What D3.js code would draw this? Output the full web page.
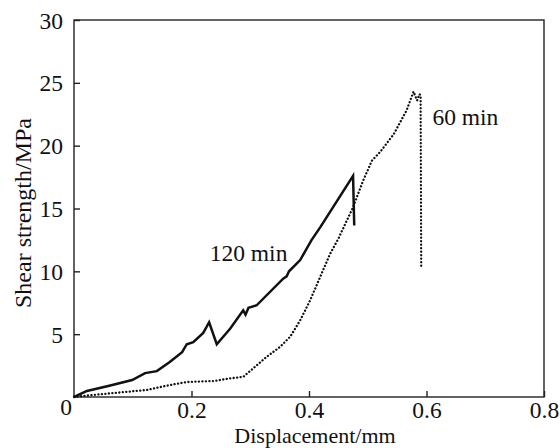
<!DOCTYPE html>
<html>
<head>
<meta charset="utf-8">
<script src="https://cdn.jsdelivr.net/npm/d3@7"></script>
</head>
<body style="margin:0; background:#fff">
<svg id="chart" width="560" height="448"></svg>
<script>
// data
// 120 min curve (solid)
const disp120 = [0, 0.022, 0.06, 0.099, 0.121, 0.141, 0.163, 0.184, 0.192, 0.203, 0.22, 0.23, 0.243, 0.266, 0.288, 0.292, 0.297, 0.311, 0.356, 0.362, 0.366, 0.385, 0.404, 0.419, 0.475, 0.477];
const stress120 = [0, 0.48, 0.9, 1.35, 1.9, 2.06, 2.78, 3.57, 4.2, 4.37, 5.1, 5.95, 4.2, 5.45, 6.9, 6.55, 7.1, 7.3, 9.42, 9.6, 10.0, 10.9, 12.46, 13.5, 17.6, 13.65];
// 60 min curve (dotted)
const disp60 = [0, 0.032, 0.124, 0.163, 0.192, 0.237, 0.266, 0.288, 0.305, 0.328, 0.351, 0.368, 0.385, 0.402, 0.419, 0.436, 0.45, 0.475, 0.492, 0.507, 0.521, 0.544, 0.566, 0.578, 0.584, 0.588, 0.590, 0.591];
const stress60 = [0, 0.16, 0.56, 0.95, 1.19, 1.27, 1.48, 1.6, 2.28, 3.2, 4.0, 4.8, 6.1, 7.7, 9.55, 11.4, 12.6, 15.1, 17.2, 18.8, 19.5, 20.9, 22.8, 24.3, 23.6, 24.1, 24.0, 10.3];
const xTicks = [0.2, 0.4, 0.6, 0.8];
const yTicks = [5, 10, 15, 20, 25, 30];
const labels = [
  {text: "120 min", x: 0.231, y: 10.82},
  {text: "60 min", x: 0.61, y: 21.64}
];

const FONT = "'Liberation Serif', 'Times New Roman', Times, serif";

const margin = {left: 74, right: 16, top: 20, bottom: 51};
const width = 560 - margin.left - margin.right;
const height = 448 - margin.top - margin.bottom;

const svg = d3.select("#chart");
const g = svg.append("g").attr("transform", "translate(" + margin.left + "," + margin.top + ")");

const x = d3.scaleLinear().domain([0, 0.8]).range([0, width]);
const y = d3.scaleLinear().domain([0, 30]).range([height, 0]);

// frame
g.append("rect")
  .attr("x", 0).attr("y", 0)
  .attr("width", width).attr("height", height)
  .attr("fill", "none")
  .attr("stroke", "#222")
  .attr("stroke-width", 1.4);

// bottom axis, ticks pointing inward
const xAxis = g.append("g")
  .attr("transform", "translate(0," + height + ")")
  .call(d3.axisBottom(x).tickValues(xTicks).tickSizeInner(-6).tickSizeOuter(0).tickFormat(d3.format(".1f")));
xAxis.select(".domain").remove();
xAxis.selectAll("line").attr("stroke", "#222").attr("stroke-width", 1.4);
xAxis.selectAll("text")
  .attr("y", 21).attr("dy", null)
  .attr("fill", "#111")
  .style("font-family", FONT).style("font-size", "23.5px");

// left axis, ticks pointing inward
const yAxis = g.append("g")
  .call(d3.axisLeft(y).tickValues(yTicks).tickSizeInner(-6).tickSizeOuter(0).tickPadding(11));
yAxis.select(".domain").remove();
yAxis.selectAll("line").attr("stroke", "#222").attr("stroke-width", 1.4);
yAxis.selectAll("text")
  .attr("dy", "0.34em")
  .attr("fill", "#111")
  .style("font-family", FONT).style("font-size", "23.5px");

// shared origin label
g.append("text")
  .attr("x", -8).attr("y", height + 18)
  .attr("text-anchor", "middle")
  .attr("fill", "#111")
  .style("font-family", FONT).style("font-size", "23.5px")
  .text("0");

// axis titles
g.append("text")
  .attr("x", width / 2 + 6).attr("y", height + 46)
  .attr("text-anchor", "middle")
  .attr("fill", "#111")
  .style("font-family", FONT).style("font-size", "22px")
  .text("Displacement/mm");

g.append("text")
  .attr("transform", "translate(" + (31 - margin.left) + "," + (213 - margin.top) + ") rotate(-90)")
  .attr("text-anchor", "middle")
  .attr("fill", "#111")
  .style("font-family", FONT).style("font-size", "24px")
  .text("Shear strength/MPa");

// curves
const line = d3.line()
  .x(d => x(d[0]))
  .y(d => y(d[1]));

g.append("path")
  .datum(d3.zip(disp60, stress60))
  .attr("d", line)
  .attr("fill", "none")
  .attr("stroke", "#111")
  .attr("stroke-width", 2.3)
  .attr("stroke-linecap", "round")
  .attr("stroke-dasharray", "0.1,3.4");

g.append("path")
  .datum(d3.zip(disp120, stress120))
  .attr("d", line)
  .attr("fill", "none")
  .attr("stroke", "#111")
  .attr("stroke-width", 2.5)
  .attr("stroke-linejoin", "miter");

// curve labels
g.selectAll(".curve-label")
  .data(labels)
  .enter()
  .append("text")
  .attr("class", "curve-label")
  .attr("x", d => x(d.x))
  .attr("y", d => y(d.y))
  .attr("fill", "#111")
  .style("font-family", FONT).style("font-size", "23.5px")
  .text(d => d.text);
</script>
</body>
</html>
